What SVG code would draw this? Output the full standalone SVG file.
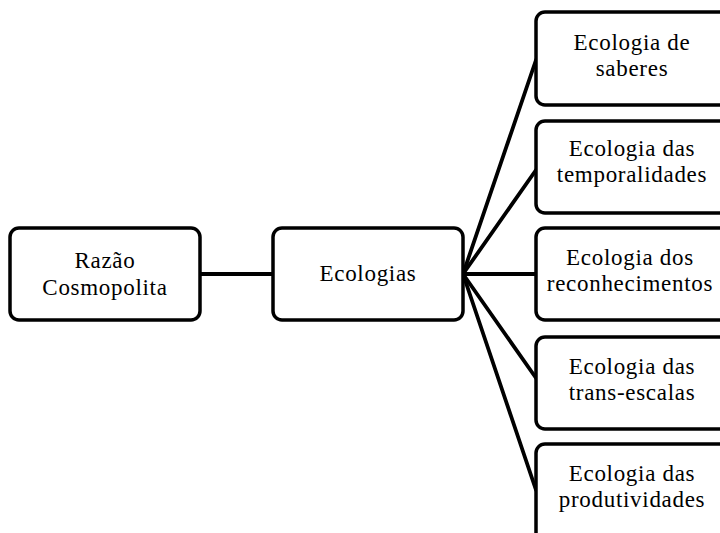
<svg xmlns="http://www.w3.org/2000/svg" width="720" height="533" viewBox="0 0 720 533">
<style>
.box{fill:#fff;stroke:#000;stroke-width:3.5}
.t{font-family:"Liberation Serif","Times New Roman",serif;font-size:23px;letter-spacing:0.7px;fill:#000;text-anchor:middle}
.c{stroke:#000;stroke-width:3.8;fill:none;stroke-linecap:round}
</style>
<rect width="720" height="533" fill="#fff"/>
<g id="connectors">
<line class="c" x1="200" y1="274" x2="273" y2="274"/>
<line class="c" x1="463" y1="274" x2="536" y2="60"/>
<line class="c" x1="463" y1="274" x2="536" y2="170"/>
<line class="c" x1="463" y1="274" x2="536" y2="274"/>
<line class="c" x1="463" y1="274" x2="536" y2="378"/>
<line class="c" x1="463" y1="274" x2="536" y2="490"/>
</g>
<g id="razao">
<rect class="box" x="10" y="228" width="190" height="92" rx="9"/>
<text class="t" x="105" y="268">Razão</text>
<text class="t" x="105" y="295">Cosmopolita</text>
</g>
<g id="ecologias">
<rect class="box" x="273" y="228" width="190" height="92" rx="9"/>
<text class="t" x="368" y="281">Ecologias</text>
</g>
<g id="saberes">
<rect class="box" x="536" y="12" width="192" height="93" rx="9"/>
<text class="t" x="632" y="50">Ecologia de</text>
<text class="t" x="632" y="76">saberes</text>
</g>
<g id="temporalidades">
<rect class="box" x="536" y="121" width="192" height="92" rx="9"/>
<text class="t" x="632" y="156">Ecologia das</text>
<text class="t" x="632" y="182">temporalidades</text>
</g>
<g id="reconhecimentos">
<rect class="box" x="536" y="228" width="192" height="92" rx="9"/>
<text class="t" x="630" y="265">Ecologia dos</text>
<text class="t" x="630" y="291">reconhecimentos</text>
</g>
<g id="transescalas">
<rect class="box" x="536" y="337" width="192" height="92" rx="9"/>
<text class="t" x="632" y="374">Ecologia das</text>
<text class="t" x="632" y="400">trans-escalas</text>
</g>
<g id="produtividades">
<rect class="box" x="536" y="444" width="192" height="100" rx="9"/>
<text class="t" x="632" y="481">Ecologia das</text>
<text class="t" x="632" y="507">produtividades</text>
</g>
</svg>
